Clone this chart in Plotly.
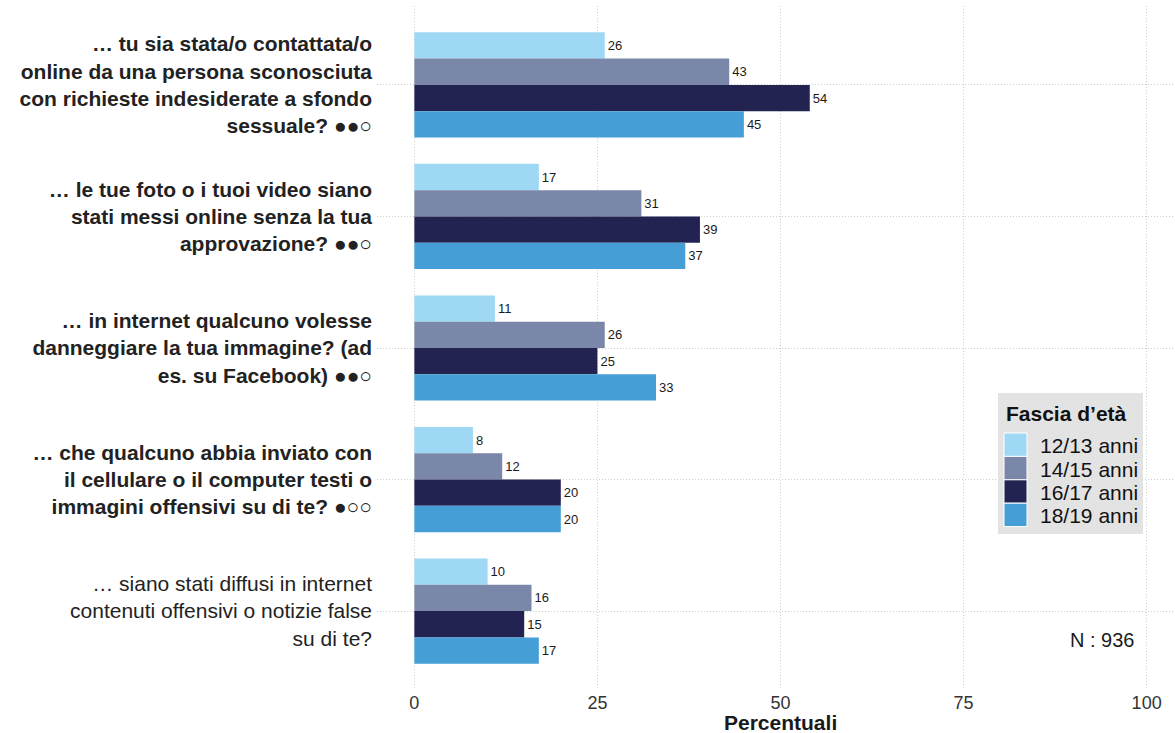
import plotly.graph_objects as go

# Survey items (top to bottom) and age groups
items = [
    "<b>… tu sia stata/o contattata/o<br>online da una persona sconosciuta<br>con richieste indesiderate a sfondo<br>sessuale? ●●○</b>",
    "<b>… le tue foto o i tuoi video siano<br>stati messi online senza la tua<br>approvazione? ●●○</b>",
    "<b>… in internet qualcuno volesse<br>danneggiare la tua immagine? (ad<br>es. su Facebook) ●●○</b>",
    "<b>… che qualcuno abbia inviato con<br>il cellulare o il computer testi o<br>immagini offensivi su di te? ●○○</b>",
    "… siano stati diffusi in internet<br>contenuti offensivi o notizie false<br>su di te?",
]
groups = ["12/13 anni", "14/15 anni", "16/17 anni", "18/19 anni"]

pct_12_13 = [26, 17, 11, 8, 10]
pct_14_15 = [43, 31, 26, 12, 16]
pct_16_17 = [54, 39, 25, 20, 15]
pct_18_19 = [45, 37, 33, 20, 17]
series = [pct_12_13, pct_14_15, pct_16_17, pct_18_19]

colors = ["#9ed8f4", "#7a87a8", "#232352", "#459fd6"]

x_ticks = [0, 25, 50, 75, 100]
legend_title = "Fascia d’età"
n_label = "N : 936"

FONT = "Liberation Sans, Arial, Helvetica, sans-serif"
W, H = 1175, 733
M_L, M_R, M_T, M_B = 377, 2, 6, 43
PW, PH = W - M_L - M_R, H - M_T - M_B


def px_x(x):
    # figure pixel column -> paper x
    return (x - M_L) / PW


def px_y(y):
    # figure pixel row -> paper y
    return (H - M_B - y) / PH


positions = list(range(len(items)))

fig = go.Figure()
for name, vals, col in zip(groups, series, colors):
    fig.add_trace(go.Bar(
        y=positions,
        x=vals,
        name=name,
        orientation="h",
        marker=dict(color=col, line=dict(width=0)),
        text=[str(v) for v in vals],
        textposition="outside",
        textfont=dict(size=13, color="#1a1a1a", family=FONT),
        cliponaxis=False,
        showlegend=False,
        hoverinfo="x+name",
    ))

grid = dict(gridcolor="#cfcfcf", griddash="1px,2px", gridwidth=1)

shapes = []
annotations = []

# Legend panel: grey box, bold title, stacked colour keys with labels
box_l, box_t, box_r, box_b = 998, 393, 1143, 534
shapes.append(dict(
    type="rect", xref="paper", yref="paper", layer="above",
    x0=px_x(box_l), x1=px_x(box_r), y0=px_y(box_b), y1=px_y(box_t),
    fillcolor="#e3e3e3", line=dict(width=0),
))
annotations.append(dict(
    text=f"<b>{legend_title}</b>", xref="paper", yref="paper",
    x=px_x(1004), y=px_y(413), xanchor="left", yanchor="middle",
    showarrow=False, font=dict(size=21, color="#111111", family=FONT),
))
key_top, key_h, key_l, key_w = 433, 23.4, 1004, 23
for i, (name, col) in enumerate(zip(groups, colors)):
    t = key_top + i * key_h
    shapes.append(dict(
        type="rect", xref="paper", yref="paper", layer="above",
        x0=px_x(key_l), x1=px_x(key_l + key_w),
        y0=px_y(t + key_h), y1=px_y(t),
        fillcolor=col, line=dict(color="white", width=1),
    ))
    annotations.append(dict(
        text=name, xref="paper", yref="paper",
        x=px_x(1038), y=px_y(t + key_h / 2 + 1), xanchor="left", yanchor="middle",
        showarrow=False, font=dict(size=21, color="#111111", family=FONT),
    ))

# Sample size note
annotations.append(dict(
    text=n_label, xref="paper", yref="paper",
    x=px_x(1136), y=px_y(640), xanchor="right", yanchor="middle",
    showarrow=False, font=dict(size=20, color="#1a1a1a", family=FONT),
))

# Axis title centred on the middle of the 0-100 scale
annotations.append(dict(
    text="<b>Percentuali</b>", xref="x", yref="paper",
    x=50, y=0, yshift=-32, xanchor="center", yanchor="middle",
    showarrow=False, font=dict(size=21, color="#1a1a1a", family=FONT),
))

fig.update_layout(
    width=W,
    height=H,
    margin=dict(l=M_L, r=M_R, t=M_T, b=M_B),
    paper_bgcolor="white",
    plot_bgcolor="white",
    barmode="group",
    bargap=0.2,
    bargroupgap=0,
    showlegend=False,
    font=dict(family=FONT, color="#1a1a1a"),
    xaxis=dict(
        range=[-5.1, 103.6],
        tickvals=x_ticks,
        ticktext=[str(t) for t in x_ticks],
        tickfont=dict(size=18, color="#333333"),
        showline=False,
        zeroline=False,
        ticks="",
        **grid,
    ),
    yaxis=dict(
        range=[4.6, -0.6],
        tickvals=positions,
        ticktext=items,
        tickfont=dict(size=21, color="#222222"),
        showline=False,
        zeroline=False,
        ticks="",
        ticklabelstandoff=4,
        **grid,
    ),
    shapes=shapes,
    annotations=annotations,
)

fig.write_html("out.html")
